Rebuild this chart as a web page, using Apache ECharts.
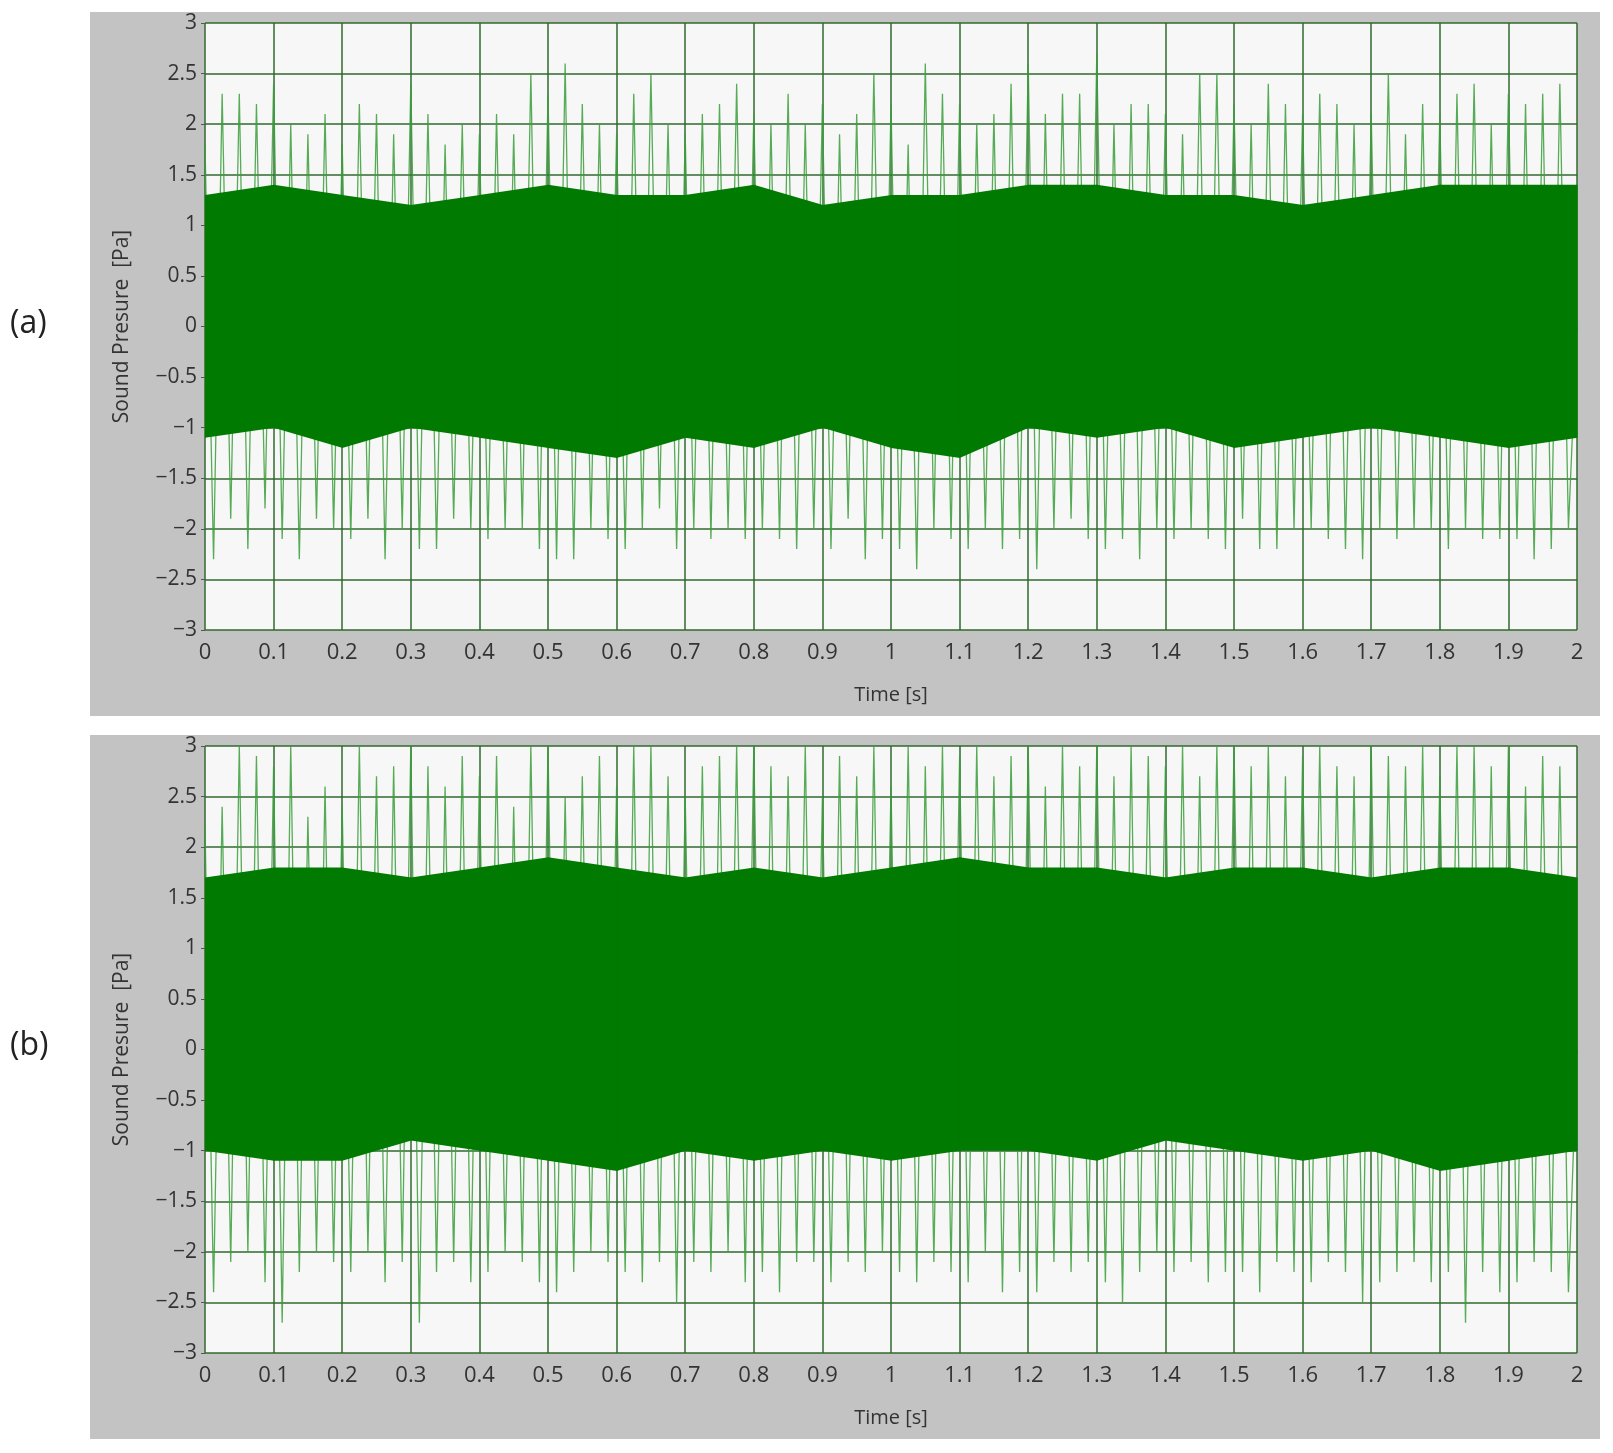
<!DOCTYPE html>
<html><head><meta charset="utf-8">
<script src="https://cdn.jsdelivr.net/npm/echarts@6/dist/echarts.min.js"></script>
<style>html,body{margin:0;background:#fff}#c{width:1613px;height:1453px}</style>
</head><body><div id="c"></div>
<script>
// peak values read per 0.025 s bin (upper / lower), chart (a)
const upperA = [1.8,2.3,2.3,2.2, 2.4,2.0,1.9,2.1, 1.8,2.2,2.1,1.9, 2.4,2.1,1.8,2.0, 1.9,2.1,1.9,2.5,
  2.3,2.6,2.2,2.0, 1.9,2.3,2.5,2.0, 1.9,2.1,2.2,2.4, 2.1,2.0,2.3,2.0, 2.2,1.9,2.1,2.5,
  2.2,1.8,2.6,2.3, 2.2,2.0,2.1,2.4, 2.6,2.1,2.3,2.3, 2.7,2.0,2.2,2.2, 2.1,1.9,2.5,2.5,
  2.2,2.0,2.4,2.2, 2.1,2.3,2.2,2.0, 2.1,2.5,1.9,2.2, 2.1,2.3,2.4,2.0, 2.3,2.2,2.3,2.4]
const lowerA = [-2.3,-1.9,-2.2,-1.8, -2.1,-2.3,-1.9,-2.0, -2.1,-1.9,-2.3,-2.0, -2.2,-2.2,-1.9,-2.0, -2.1,-2.0,-2.0,-2.2,
  -2.3,-2.3,-2.0,-2.1, -2.2,-2.0,-1.8,-2.2, -2.0,-2.1,-2.0,-2.1, -2.0,-2.1,-2.2,-2.0, -2.2,-1.9,-2.3,-2.1,
  -2.2,-2.4,-2.0,-2.1, -2.2,-2.0,-2.2,-2.1, -2.4,-2.0,-1.9,-2.1, -2.2,-2.1,-2.3,-2.0, -2.1,-2.0,-2.1,-2.2,
  -1.9,-2.2,-2.2,-2.0, -2.0,-2.1,-2.2,-2.3, -2.0,-2.1,-2.0,-2.0, -2.2,-2.0,-2.1,-2.1, -2.1,-2.3,-2.2,-2.0]
// dense core per 0.1 s step (21 points, 0..2 s), chart (a)
const coreUpA = [1.3,1.4,1.3,1.2,1.3,1.4,1.3,1.3,1.4,1.2,1.3,1.3,1.4,1.4,1.3,1.3,1.2,1.3,1.4,1.4,1.4]
const coreLowA = [-1.1,-1.0,-1.2,-1.0,-1.1,-1.2,-1.3,-1.1,-1.2,-1.0,-1.2,-1.3,-1.0,-1.1,-1.0,-1.2,-1.1,-1.0,-1.1,-1.2,-1.1]

// chart (b)
const upperB = [2.2,2.4,3.0,2.9, 2.8,3.0,2.3,2.6, 2.4,3.0,2.7,2.8, 3.0,2.8,2.6,2.9, 2.7,2.9,2.4,3.0,
  3.0,2.5,2.7,2.9, 2.6,3.0,3.0,2.7, 2.5,2.8,2.9,3.0, 3.0,2.8,2.7,3.0, 2.5,2.9,2.7,3.0,
  2.6,3.0,2.8,3.0, 2.9,3.0,2.7,2.9, 3.0,2.6,3.0,2.8, 3.0,2.7,3.0,2.9, 2.8,3.0,2.7,3.0,
  3.0,2.8,3.0,2.7, 2.9,3.0,2.8,2.7, 3.0,2.9,2.8,3.0, 2.7,3.0,3.0,2.8, 3.0,2.6,2.9,2.8]
const lowerB = [-2.4,-2.1,-2.0,-2.3, -2.7,-2.2,-2.0,-2.1, -2.2,-2.0,-2.3,-2.1, -2.7,-2.2,-2.1,-2.3, -2.2,-2.0,-2.1,-2.3,
  -2.4,-2.2,-2.0,-2.1, -2.2,-2.3,-2.1,-2.5, -2.1,-2.2,-2.0,-2.3, -2.2,-2.4,-2.1,-2.1, -2.3,-2.1,-2.2,-2.0,
  -2.2,-2.3,-2.1,-2.2, -2.3,-2.0,-2.4,-2.2, -2.4,-2.1,-2.2,-2.1, -2.3,-2.5,-2.2,-2.0, -2.2,-2.1,-2.3,-2.2,
  -2.2,-2.4,-2.1,-2.2, -2.3,-2.1,-2.2,-2.5, -2.3,-2.2,-2.1,-2.3, -2.2,-2.7,-2.2,-2.4, -2.3,-2.1,-2.2,-2.4]
const coreUpB = [1.7,1.8,1.8,1.7,1.8,1.9,1.8,1.7,1.8,1.7,1.8,1.9,1.8,1.8,1.7,1.8,1.8,1.7,1.8,1.8,1.7]
const coreLowB = [-1.0,-1.1,-1.1,-0.9,-1.0,-1.1,-1.2,-1.0,-1.1,-1.0,-1.1,-1.0,-1.0,-1.1,-0.9,-1.0,-1.1,-1.0,-1.2,-1.1,-1.0]

const chart = echarts.init(document.getElementById('c'))
const font = 'Open Sans'
const gridColor = '#2f6a2f'

const peakLine = (up, low) => {
  const pts = []
  up.forEach((u, i) => {
    const t = i * 0.025
    pts.push([t, u])
    pts.push([t + 0.0125, low[i]])
  })
  pts.push([2, 0])
  return pts
}
// core band segments: [t0, t1, low0, up0, low1, up1]
const coreSegs = (up, lo) => up.slice(0, -1).map((v, i) => [i * 0.1, (i + 1) * 0.1, lo[i], v, lo[i + 1], up[i + 1]])

const grids = [
  { left: 205, right: 36, top: 23, height: 607 },
  { left: 205, right: 36, top: 746, height: 607 }
]
const xAxes = grids.map((g, i) => ({
  type: 'value', gridIndex: i, min: 0, max: 2, interval: 0.1,
  name: 'Time [s]', nameLocation: 'middle', nameGap: 55,
  nameTextStyle: { fontFamily: font, fontSize: 20, color: '#333' },
  axisLine: { show: false }, axisTick: { show: true, length: 5, lineStyle: { color: '#555' } },
  axisLabel: { fontFamily: font, fontSize: 22, color: '#333', margin: 12,
    formatter: v => String(Math.round(v * 10) / 10) },
  splitLine: { show: true, lineStyle: { color: gridColor, width: 1.5 } }
}))
const yAxes = grids.map((g, i) => ({
  type: 'value', gridIndex: i, min: -3, max: 3, interval: 0.5,
  name: 'Sound Presure  [Pa]', nameLocation: 'middle', nameGap: 72, nameRotate: 90,
  nameTextStyle: { fontFamily: font, fontSize: 21, color: '#333' },
  axisLine: { show: false }, axisTick: { show: true, length: 4, lineStyle: { color: '#555' } },
  axisLabel: { fontFamily: font, fontSize: 21, color: '#333', margin: 8,
    formatter: v => v < 0 ? '\u2212' + Math.abs(v) : String(v) },
  splitLine: { show: true, lineStyle: { color: gridColor, width: 1.5 } }
}))

const series = []
;[[upperA, lowerA, coreUpA, coreLowA], [upperB, lowerB, coreUpB, coreLowB]].forEach((d, i) => {
  series.push({ type: 'line', xAxisIndex: i, yAxisIndex: i, symbol: 'none', silent: true,
    data: peakLine(d[0], d[1]), lineStyle: { color: '#3a9e3a', width: 1.3, opacity: 0.85 }, z: 3 })
  series.push({ type: 'custom', xAxisIndex: i, yAxisIndex: i, silent: true, z: 4,
    data: coreSegs(d[2], d[3]),
    encode: { x: [0, 1], y: [2, 3, 4, 5] },
    renderItem: (params, api) => {
      const p = [
        api.coord([api.value(0), api.value(3)]),
        api.coord([api.value(1), api.value(5)]),
        api.coord([api.value(1), api.value(4)]),
        api.coord([api.value(0), api.value(2)])
      ]
      p[1][0] += 0.6; p[2][0] += 0.6
      return { type: 'polygon', shape: { points: p }, style: { fill: '#007a00' } }
    } })
})

chart.setOption({
  backgroundColor: '#fff',
  animation: false,
  graphic: [
    { type: 'rect', shape: { x: 90, y: 12, width: 1510, height: 704 }, style: { fill: '#c3c3c3' }, z: -10 },
    { type: 'rect', shape: { x: 90, y: 735, width: 1510, height: 704 }, style: { fill: '#c3c3c3' }, z: -10 },
    { type: 'text', left: 10, top: 308, style: { text: '(a)', fontFamily: font, fontSize: 32, fill: '#222' } },
    { type: 'text', left: 10, top: 1030, style: { text: '(b)', fontFamily: font, fontSize: 32, fill: '#222' } }
  ],
  grid: grids.map(g => Object.assign({ show: true, backgroundColor: '#f7f7f7', borderWidth: 0 }, g)),
  xAxis: xAxes,
  yAxis: yAxes,
  series
})
</script></body></html>
